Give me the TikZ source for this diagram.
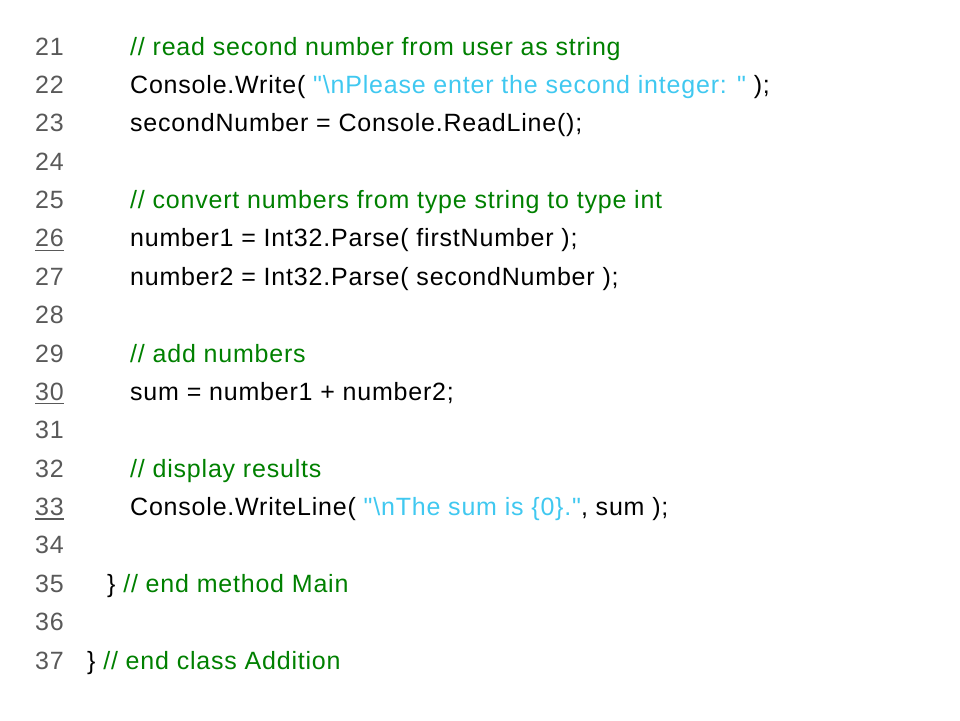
\documentclass[tikz,border=0pt]{standalone}
\usepackage{fontspec}
\setmainfont[LetterSpace=3.2,Ligatures=TeXOff]{Liberation Sans}
\usetikzlibrary{positioning}
\definecolor{numgray}{RGB}{89,89,89}
\definecolor{codegreen}{RGB}{0,128,0}
\definecolor{strcyan}{RGB}{64,200,240}
\newcommand{\str}[1]{\textcolor{strcyan}{#1}}
\newcommand{\bs}{\textbackslash}
\newcommand{\qt}{\symbol{34}}
\begin{document}
\begin{tikzpicture}[x=1pt,y=-1pt,
    every node/.style={inner sep=0pt,anchor=base west,font=\fontsize{25}{30}\selectfont},
    lnum/.style={text=numgray},
    cmt/.style={text=codegreen},
    uline/.style={draw=numgray,line width=1.2pt}]
  \useasboundingbox (0,0) rectangle (960,720);

  % line numbers
  \foreach \n [count=\i from 0] in {21,...,37}
    \node[lnum] (n\n) at (35,55+38.375*\i) {\n};
  \foreach \n in {26,30,33}
    \draw[uline] ([yshift=-3.5pt]n\n.base west) -- ([yshift=-3.5pt]n\n.base east);

  % the code
  \node[cmt] (c21) at (130,55) {// read second number from user as string};
  \node (c22) at (130,93.4) {Console.Write( \str{\qt\bs nPlease enter the second integer: \qt} );};
  \node (c23) at (130,131.8) {secondNumber = Console.ReadLine();};
  \node[cmt] (c25) at (130,208.5) {// convert numbers from type string to type int};
  \node (c26) at (130,246.9) {number1 = Int32.Parse( firstNumber );};
  \node (c27) at (130,285.3) {number2 = Int32.Parse( secondNumber );};
  \node[cmt] (c29) at (130,362) {// add numbers};
  \node (c30) at (130,400.4) {sum = number1 + number2;};
  \node[cmt] (c32) at (130,477.1) {// display results};
  \node (c33) at (130,515.5) {Console.WriteLine( \str{\qt\bs nThe sum is \{0\}.\qt}, sum );};
  \node (c35) at (107,592.3) {\} \textcolor{codegreen}{// end method Main}};
  \node (c37) at (87,669) {\} \textcolor{codegreen}{// end class Addition}};
\end{tikzpicture}
\end{document}
